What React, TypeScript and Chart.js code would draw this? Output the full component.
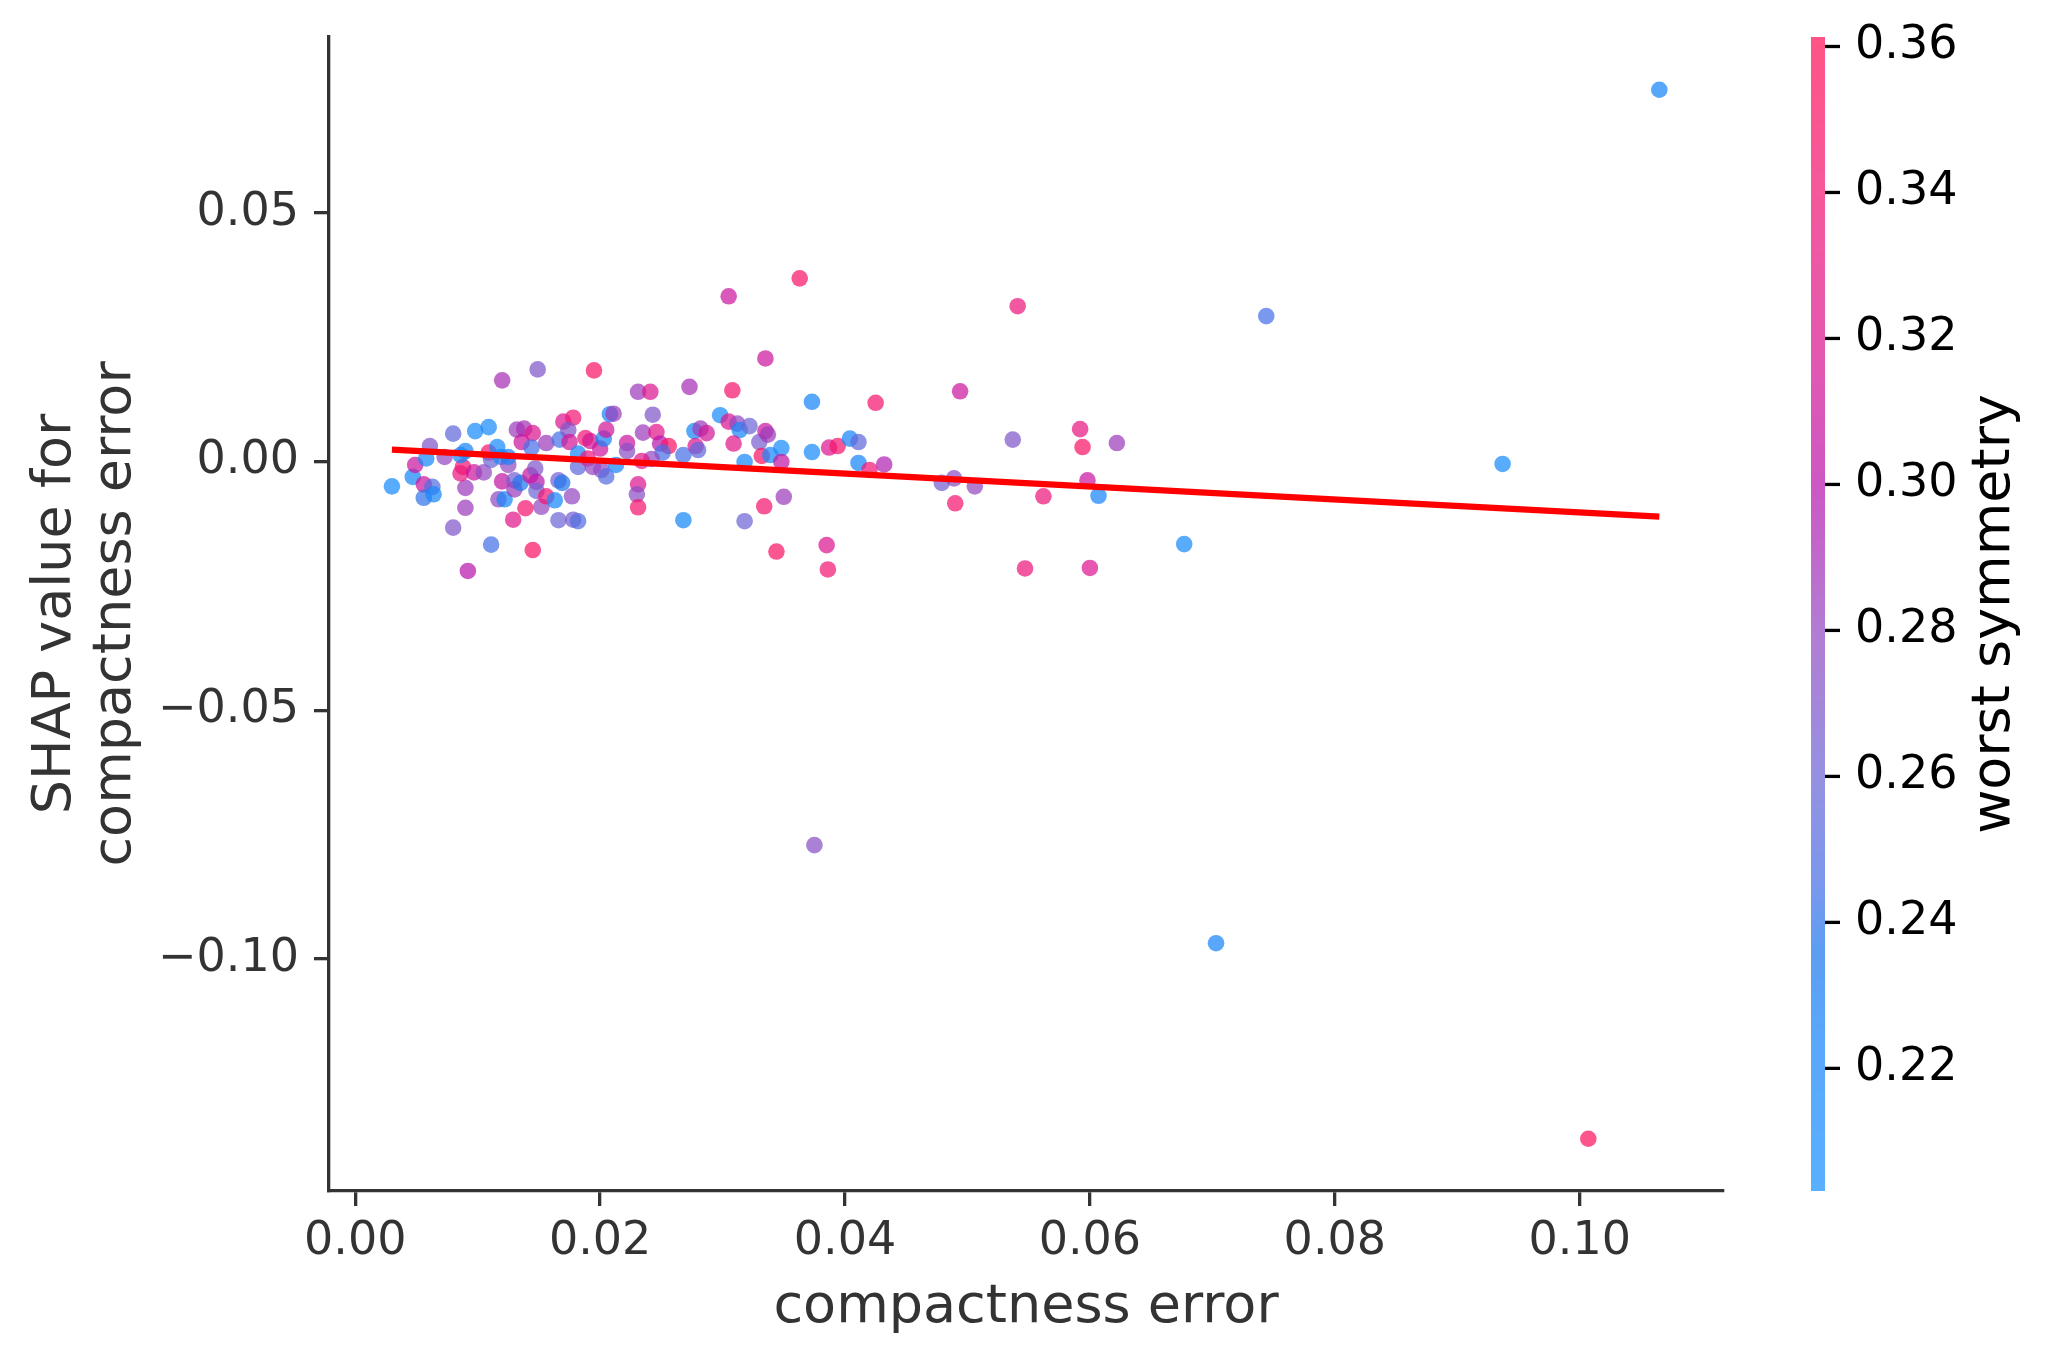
import React, { useEffect, useRef } from "react";
import { Chart, registerables } from "chart.js";

Chart.register(...registerables);

// ---------------- DATA ----------------
const compactnessError = [
  0.0030, 0.0047, 0.0049, 0.0056, 0.0056, 0.0063, 0.0064, 0.0058, 0.0061, 0.0073,
  0.0080, 0.0080, 0.0090, 0.0090, 0.0092, 0.0086, 0.0088, 0.0086, 0.0090, 0.0097,
  0.0105, 0.0098, 0.0109, 0.0109, 0.0111, 0.0116, 0.0119, 0.0120, 0.0111, 0.0120,
  0.0117, 0.0122, 0.0125, 0.0125, 0.0129, 0.0130, 0.0130, 0.0135, 0.0132, 0.0138,
  0.0136, 0.0145, 0.0144, 0.0139, 0.0145, 0.0143, 0.0147, 0.0148, 0.0148, 0.0152,
  0.0156, 0.0163, 0.0149, 0.0156, 0.0166, 0.0169, 0.0177, 0.0166, 0.0178, 0.0182,
  0.0167, 0.0170, 0.0178, 0.0174, 0.0175, 0.0182, 0.0182, 0.0188, 0.0192, 0.0195,
  0.0190, 0.0194, 0.0200, 0.0203, 0.0205, 0.0208, 0.0211, 0.0201, 0.0205, 0.0213,
  0.0222, 0.0222,
  0.0231, 0.0241, 0.0273, 0.0335, 0.0308, 0.0373, 0.0425, 0.0243, 0.0235, 0.0246,
  0.0249, 0.0256, 0.0251, 0.0242, 0.0234, 0.0268, 0.0277, 0.0282, 0.0287, 0.0278,
  0.0280, 0.0298, 0.0305, 0.0312, 0.0314, 0.0322, 0.0309, 0.0318, 0.0330, 0.0335,
  0.0337, 0.0332, 0.0339, 0.0348, 0.0348, 0.0373, 0.0387, 0.0394, 0.0404, 0.0411,
  0.0411, 0.0420, 0.0432, 0.0231, 0.0230, 0.0231, 0.0268, 0.0318, 0.0334, 0.0350,
  0.0344, 0.0385, 0.0386,
  0.0305, 0.0363, 0.0375, 0.0494, 0.0541, 0.0537, 0.0479, 0.0489, 0.0490, 0.0506,
  0.0547, 0.0562, 0.0592, 0.0594, 0.0598, 0.0607, 0.0600, 0.0622, 0.0677, 0.0703,
  0.0744, 0.0937, 0.1007, 0.1065,
];

const shapValues = [
  -0.0050, -0.0031, -0.0007, -0.0046, -0.0073, -0.0051, -0.0066, 0.0006, 0.0031, 0.0009,
  0.0056, -0.0133, -0.0053, -0.0093, -0.0220, -0.0024, -0.0011, 0.0013, 0.0021, -0.0022,
  -0.0022, 0.0061, 0.0069, 0.0018, 0.0003, 0.0029, 0.0009, 0.0163, -0.0167, -0.0040,
  -0.0076, -0.0076, -0.0007, 0.0009, -0.0117, -0.0038, -0.0056, -0.0043, 0.0064, 0.0066,
  0.0039, 0.0057, 0.0028, -0.0094, -0.0178, -0.0028, -0.0014, -0.0041, -0.0059, -0.0091,
  -0.0070, -0.0078, 0.0185, 0.0037, -0.0038, -0.0043, -0.0070, -0.0118, -0.0117, -0.0120,
  0.0044, 0.0080, 0.0088, 0.0063, 0.0039, 0.0016, -0.0011, 0.0047, 0.0041, 0.0183,
  0.0006, -0.0011, 0.0026, 0.0046, 0.0064, 0.0095, 0.0096, -0.0017, -0.0030, -0.0007,
  0.0037, 0.0021,
  0.0140, 0.0140, 0.0150, 0.0207, 0.0143, 0.0120, 0.0118, 0.0094, 0.0058, 0.0059,
  0.0036, 0.0031, 0.0018, 0.0005, 0.0001, 0.0013, 0.0061, 0.0066, 0.0057, 0.0031,
  0.0023, 0.0093, 0.0080, 0.0076, 0.0063, 0.0071, 0.0036, -0.0001, 0.0039, 0.0061,
  0.0054, 0.0011, 0.0013, 0.0027, -0.0001, 0.0019, 0.0028, 0.0031, 0.0046, 0.0039,
  -0.0003, -0.0017, -0.0006, -0.0046, -0.0066, -0.0092, -0.0118, -0.0120, -0.0090, -0.0071,
  -0.0181, -0.0168, -0.0217,
  0.0332, 0.0368, -0.0771, 0.0141, 0.0312, 0.0044, -0.0043, -0.0034, -0.0084, -0.0050,
  -0.0215, -0.0070, 0.0065, 0.0029, -0.0038, -0.0069, -0.0214, 0.0037, -0.0166, -0.0968,
  0.0292, -0.0005, -0.1361, 0.0747,
];

const worstSymmetry = [
  0.215, 0.22, 0.31, 0.31, 0.24, 0.25, 0.22, 0.22, 0.27, 0.28,
  0.255, 0.27, 0.285, 0.285, 0.30, 0.33, 0.34, 0.225, 0.225, 0.31,
  0.28, 0.215, 0.215, 0.345, 0.26, 0.215, 0.22, 0.29, 0.245, 0.305,
  0.28, 0.22, 0.28, 0.225, 0.325, 0.265, 0.285, 0.235, 0.285, 0.29,
  0.31, 0.32, 0.245, 0.345, 0.35, 0.31, 0.27, 0.30, 0.26, 0.28,
  0.34, 0.22, 0.27, 0.285, 0.265, 0.235, 0.28, 0.26, 0.265, 0.25,
  0.245, 0.32, 0.34, 0.27, 0.315, 0.22, 0.255, 0.34, 0.315, 0.35,
  0.33, 0.28, 0.31, 0.23, 0.315, 0.225, 0.285, 0.28, 0.25, 0.22,
  0.31, 0.275,
  0.285, 0.32, 0.29, 0.31, 0.345, 0.225, 0.345, 0.27, 0.285, 0.325,
  0.30, 0.35, 0.245, 0.28, 0.325, 0.245, 0.22, 0.285, 0.315, 0.32,
  0.255, 0.215, 0.32, 0.28, 0.22, 0.26, 0.325, 0.22, 0.265, 0.31,
  0.285, 0.35, 0.22, 0.215, 0.305, 0.215, 0.32, 0.345, 0.225, 0.255,
  0.225, 0.34, 0.295, 0.32, 0.275, 0.345, 0.22, 0.26, 0.345, 0.285,
  0.35, 0.32, 0.34,
  0.31, 0.35, 0.275, 0.31, 0.335, 0.27, 0.265, 0.275, 0.345, 0.28,
  0.335, 0.335, 0.33, 0.35, 0.31, 0.225, 0.32, 0.285, 0.215, 0.225,
  0.245, 0.215, 0.355, 0.225,
];

// fitted trend line (end points)
const trendX = [0.0030, 0.1065];
const trendY = [0.0024, -0.0111];

// axes
const xRange = [-0.00214, 0.1117];
const yRange = [-0.1466, 0.0853];
const xTickValues = [0, 0.02, 0.04, 0.06, 0.08, 0.1];
const yTickValues = [-0.1, -0.05, 0, 0.05];
const colorbarRange = [0.2032, 0.3613];
const colorbarTicks = [0.22, 0.24, 0.26, 0.28, 0.3, 0.32, 0.34, 0.36];

const xTitle = "compactness error";
const yTitle = ["SHAP value for", "compactness error"];
const colorbarTitle = "worst symmetry";

// ---------------- STYLE ----------------
const POINT_ALPHA = 0.72;
const cmapValues = [0.2032, 0.225, 0.236, 0.245, 0.26, 0.28, 0.3, 0.32, 0.34, 0.3613];
const cmapColors = [
  [25, 145, 255],
  [25, 133, 248],
  [30, 120, 236],
  [70, 112, 230],
  [109, 102, 213],
  [148, 74, 192],
  [185, 23, 172],
  [220, 23, 144],
  [241, 23, 116],
  [255, 19, 88],
];
const FONT = "'DejaVu Sans', sans-serif";
const AXIS_COLOR = "#333333";

function cmap(v: number): number[] {
  if (v <= cmapValues[0]) return cmapColors[0];
  for (let i = 1; i < cmapValues.length; i++) {
    if (v <= cmapValues[i]) {
      const t = (v - cmapValues[i - 1]) / (cmapValues[i] - cmapValues[i - 1]);
      const a = cmapColors[i - 1];
      const b = cmapColors[i];
      return [0, 1, 2].map((k) => Math.round(a[k] + (b[k] - a[k]) * t));
    }
  }
  return cmapColors[cmapColors.length - 1];
}
function cmapRgba(v: number): string {
  const c = cmap(v);
  return `rgba(${c[0]},${c[1]},${c[2]},${POINT_ALPHA})`;
}

function fmtTick(v: number): string {
  const s = Math.abs(v).toFixed(2);
  return v < -1e-9 ? "\u2212" + s : s;
}

const colorbarPlugin = {
  id: "shapColorbar",
  afterDraw(chart: any) {
    const ctx = chart.ctx as CanvasRenderingContext2D;
    const { top, bottom, right } = chart.chartArea;
    const x0 = right + 88;
    const w = 14;
    const [vmin, vmax] = colorbarRange;
    const toY = (v: number) => bottom - ((v - vmin) / (vmax - vmin)) * (bottom - top);
    ctx.save();
    for (let y = Math.floor(top); y < bottom; y++) {
      const v = vmin + ((bottom - (y + 0.5)) / (bottom - top)) * (vmax - vmin);
      ctx.fillStyle = cmapRgba(v);
      ctx.fillRect(x0, y, w, 1);
    }
    ctx.strokeStyle = "#000";
    ctx.lineWidth = 3.3;
    ctx.fillStyle = "#000";
    ctx.font = `46px ${FONT}`;
    ctx.textAlign = "left";
    ctx.textBaseline = "middle";
    for (const t of colorbarTicks) {
      const y = toY(t);
      ctx.beginPath();
      ctx.moveTo(x0 + w, y);
      ctx.lineTo(x0 + w + 15, y);
      ctx.stroke();
      ctx.fillText(t.toFixed(2), x0 + w + 30, y);
    }
    ctx.translate(x0 + 184, (top + bottom) / 2);
    ctx.rotate(-Math.PI / 2);
    ctx.font = `54px ${FONT}`;
    ctx.textAlign = "center";
    ctx.textBaseline = "middle";
    ctx.fillText(colorbarTitle, 0, 0);
    ctx.restore();
  },
};

export default function App() {
  const canvasRef = useRef<HTMLCanvasElement | null>(null);

  useEffect(() => {
    const canvas = canvasRef.current;
    if (!canvas) return;
    const points = compactnessError.map((x, i) => ({ x, y: shapValues[i] }));
    const trend = trendX.map((x, i) => ({ x, y: trendY[i] }));

    const chart = new Chart(canvas, {
      type: "scatter",
      data: {
        datasets: [
          {
            label: "trend",
            data: trend,
            showLine: true,
            borderColor: "#ff0000",
            borderWidth: 6.3,
            pointRadius: 0,
            fill: false,
          } as any,
          {
            label: "points",
            data: points,
            pointRadius: 8.3,
            pointHoverRadius: 8.3,
            borderWidth: 0,
            pointBorderWidth: 0,
            backgroundColor: (c: any) => cmapRgba(worstSymmetry[c.dataIndex] ?? 0.28),
            pointBackgroundColor: (c: any) => cmapRgba(worstSymmetry[c.dataIndex] ?? 0.28),
          } as any,
        ],
      },
      options: {
        responsive: false,
        animation: false,
        devicePixelRatio: 1,
        events: [],
        layout: { padding: { left: 0, top: 37, right: 332, bottom: 0 } },
        plugins: {
          legend: { display: false },
          tooltip: { enabled: false },
        },
        scales: {
          x: {
            type: "linear",
            position: "bottom",
            min: xRange[0],
            max: xRange[1],
            afterBuildTicks: (s: any) => {
              s.ticks = xTickValues.map((v) => ({ value: v }));
            },
            afterFit: (s: any) => {
              s.height = 174;
              s.paddingLeft = 0;
              s.paddingRight = 0;
            },
            ticks: {
              callback: (v: any) => Number(v).toFixed(2),
              color: AXIS_COLOR,
              font: { family: FONT, size: 46 },
              padding: 8,
              maxRotation: 0,
              autoSkip: false,
            },
            grid: {
              display: true,
              drawOnChartArea: false,
              drawTicks: true,
              tickLength: 15,
              tickWidth: 3.3,
              tickColor: AXIS_COLOR,
              color: AXIS_COLOR,
              lineWidth: 3.3,
            },
            border: { display: true, color: AXIS_COLOR, width: 3.3 },
            title: {
              display: true,
              text: xTitle,
              color: AXIS_COLOR,
              font: { family: FONT, size: 54, lineHeight: 1.2 },
              padding: { top: 0, bottom: 25 },
            },
          },
          y: {
            type: "linear",
            position: "left",
            min: yRange[0],
            max: yRange[1],
            afterBuildTicks: (s: any) => {
              s.ticks = yTickValues.map((v) => ({ value: v }));
            },
            afterFit: (s: any) => {
              s.width = 329;
              s.paddingTop = 0;
              s.paddingBottom = 0;
            },
            ticks: {
              callback: (v: any) => fmtTick(Number(v)),
              color: AXIS_COLOR,
              font: { family: FONT, size: 46 },
              padding: 15,
              autoSkip: false,
            },
            grid: {
              display: true,
              drawOnChartArea: false,
              drawTicks: true,
              tickLength: 15,
              tickWidth: 3.3,
              tickColor: AXIS_COLOR,
              color: AXIS_COLOR,
              lineWidth: 3.3,
            },
            border: { display: true, color: AXIS_COLOR, width: 3.3 },
            title: {
              display: true,
              text: yTitle,
              color: AXIS_COLOR,
              font: { family: FONT, size: 54, lineHeight: 60 / 54 },
              padding: { top: 26, bottom: 0 },
            },
          },
        },
      } as any,
      plugins: [colorbarPlugin],
    });

    return () => chart.destroy();
  }, []);

  return (
    <div style={{ position: "absolute", left: 0, top: 0, width: 2055, height: 1365, background: "#fff" }}>
      <canvas ref={canvasRef} width={2055} height={1365} style={{ display: "block" }} />
    </div>
  );
}
